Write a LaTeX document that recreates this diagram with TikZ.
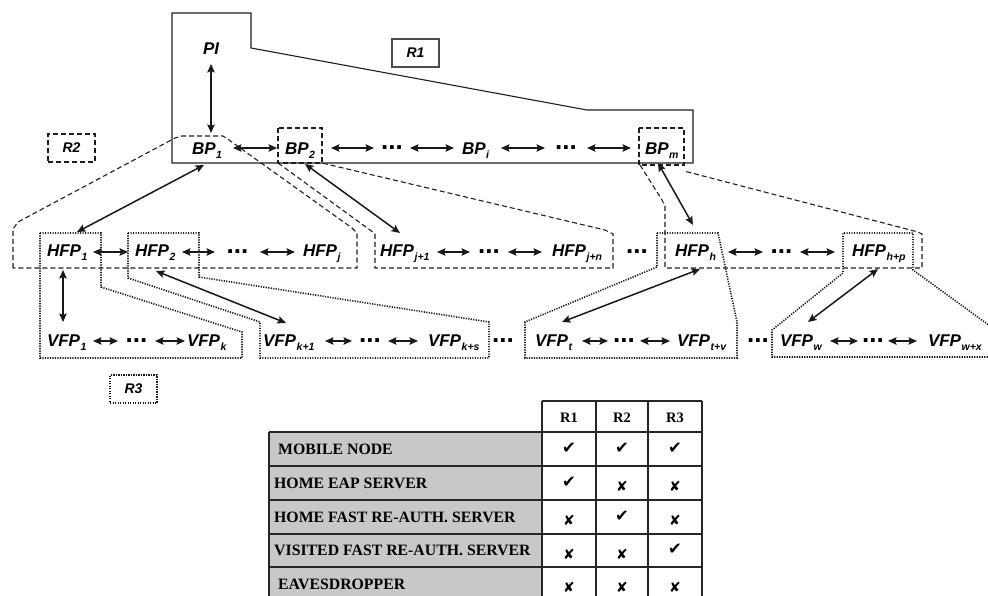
\documentclass[tikz,border=0pt]{standalone}
\usepackage{fontspec}
\setmainfont{Liberation Serif}
\newfontfamily\diagfont{Liberation Sans}
\newfontfamily\markfont{DejaVu Sans}
\usetikzlibrary{arrows.meta,calc}

% subscript used in the point labels
\newcommand\sbx[1]{\kern0.6pt\raisebox{-4pt}{\fontsize{10.5}{10.5}\selectfont #1}}

\definecolor{tabgray}{HTML}{C8C8C8}
\definecolor{inkline}{HTML}{1E1E1E}

\tikzset{
  lbl/.style={anchor=base west, inner sep=0pt, outer sep=0pt,
    text height=12pt, text depth=0pt,
    font=\diagfont\bfseries\itshape\fontsize{17}{17}\selectfont},
  dotsnode/.style={inner sep=0pt, outer sep=0pt, minimum width=#1,
    font=\diagfont\bfseries\fontsize{26}{26}\selectfont},
  dotsnode/.default=0pt,
  harr/.style={<->, >={Stealth[length=8.5pt,width=7.5pt,inset=1.5pt]},
    line width=1.5pt, draw=black!90},
  r1line/.style={draw=inkline, line width=1.1pt},
  r2line/.style={draw=inkline, line width=1.1pt, dash pattern=on 5pt off 3pt},
  r3line/.style={draw=black!90, line width=1.6pt, dash pattern=on 1.2pt off 1.3pt},
  rlabel/.style={minimum width=47pt, minimum height=28pt, inner sep=0pt,
    font=\diagfont\bfseries\itshape\fontsize{14}{14}\selectfont},
  tabline/.style={draw=black!85, line width=1.2pt},
  rowtxt/.style={anchor=west, inner sep=0pt,
    font=\bfseries\fontsize{15.8}{16}\selectfont},
  headtxt/.style={inner sep=0pt, font=\bfseries\fontsize{14.5}{15}\selectfont},
  yes/.style={inner sep=0pt, font=\markfont\fontsize{16.5}{16.5}\selectfont},
  no/.style={inner sep=0pt, font=\markfont\fontsize{14}{14}\selectfont},
}

\begin{document}
\begin{tikzpicture}[x=1pt, y=-1pt]
\useasboundingbox (0,0) rectangle (988,596);

% ---------- region outlines ----------
% R1 (solid)
\draw[r1line] (172,13) -- (251,13) -- (251,48) -- (587,110) -- (693,110)
  -- (693,163) -- (172,163) -- cycle;
% R2 (dashed)
\draw[r2line] (13,268) -- (13,229) -- (18,222) -- (175,138) -- (182,136)
  -- (223,136) -- (229,140) -- (352,228) -- (357,233) -- (357,268) -- cycle;
\draw[r2line] (278,128) rectangle (322,163);
\draw[r2line] (278,163) -- (370,230) -- (375,234) -- (375,268) -- (613,268)
  -- (613,234) -- (605,230) -- (322,163);
\draw[r2line] (639,128) rectangle (684,165);
\draw[r2line] (640,165) -- (662,200) -- (665,206) -- (665,268) -- (922,268)
  -- (922,234) -- (918,232) -- (684,171);
% R3 (dotted)
\draw[r3line] (40,233) -- (101,233) -- (101,287) -- (242,332) -- (242,358)
  -- (40,358) -- cycle;
\draw[r3line] (128,233) -- (199,233) -- (199,277) -- (489,322) -- (489,358)
  -- (260,358) -- (260,322) -- (128,278) -- cycle;
\draw[r3line] (657,233) -- (718,233) -- (737,322) -- (737,358) -- (525,358)
  -- (525,322) -- (657,267) -- cycle;
\draw[r3line] (990,326) -- (913,270) -- (913,233) -- (843,233) -- (843,273)
  -- (772,330) -- (772,357) -- (990,357);

% region tags
\node[rlabel, draw=black!70, line width=1.4pt] (tagr1) at (415.5,53) {R1};
\node[rlabel, r2line] (tagr2) at (71.5,148) {R2};
\node[rlabel, r3line] (tagr3) at (133.5,389) {R3};

% ---------- points ----------
\node[lbl] (pi) at (203,55) {PI};

\node[lbl] (bp1) at (192,155) {BP\sbx{1}};
\node[lbl] (bp2) at (285,155) {BP\sbx{2}};
\node[lbl] (bpi) at (462,155) {BP\sbx{i}};
\node[lbl] (bpm) at (645,155) {BP\sbx{m}};
\node[dotsnode=36pt] (bdots1) at (392,148) {...};
\node[dotsnode=42pt] (bdots2) at (566,148) {...};

\node[lbl] (hfp1)  at (47,257)  {HFP\sbx{1}};
\node[lbl] (hfp2)  at (135,257) {HFP\sbx{2}};
\node[lbl] (hfpj)  at (303,257) {HFP\sbx{j}};
\node[lbl] (hfpja) at (380,257) {HFP\sbx{j+1}};
\node[lbl] (hfpjn) at (552,257) {HFP\sbx{j+n}};
\node[lbl] (hfph)  at (675,257) {HFP\sbx{h}};
\node[lbl] (hfphp) at (852,257) {HFP\sbx{h+p}};
\node[dotsnode=45pt] (hdots1) at (237.5,252) {...};
\node[dotsnode=38pt] (hdots2) at (489,252) {...};
\node[dotsnode] (hdots3) at (637,252) {...};
\node[dotsnode=37pt] (hdots4) at (781.5,252) {...};

\node[lbl] (vfp1)  at (47,346)  {VFP\sbx{1}};
\node[lbl] (vfpk)  at (187,346) {VFP\sbx{k}};
\node[lbl] (vfpka) at (263,346) {VFP\sbx{k+1}};
\node[lbl] (vfpks) at (428,346) {VFP\sbx{k+s}};
\node[lbl] (vfpt)  at (535,346) {VFP\sbx{t}};
\node[lbl] (vfptv) at (677,346) {VFP\sbx{t+v}};
\node[lbl] (vfpw)  at (780,346) {VFP\sbx{w}};
\node[lbl] (vfpwx) at (928,346) {VFP\sbx{w+x}};
\node[dotsnode=37pt] (vdots1) at (136.5,341) {...};
\node[dotsnode=36pt] (vdots2) at (370,341) {...};
\node[dotsnode] (vdots3) at (503,341) {...};
\node[dotsnode=32pt] (vdots4) at (624,341) {...};
\node[dotsnode] (vdots5) at (758,341) {...};
\node[dotsnode=30pt] (vdots6) at (873,341) {...};

% ---------- links along the rows ----------
\draw[harr] ($(bp1.base west)+(41,-7)$) -- ($(bp2.base west)+(-8,-7)$);
\draw[harr] ($(bp2.base west)+(46,-7)$) -- (bdots1.west);
\draw[harr] (bdots1.east) -- ($(bpi.base west)+(-8,-7)$);
\draw[harr] ($(bpi.base west)+(39,-7)$) -- (bdots2.west);
\draw[harr] (bdots2.east) -- ($(bpm.base west)+(-14,-7)$);

\draw[harr] ($(hfp1.base west)+(46,-5)$) -- ($(hfp2.base west)+(-7,-5)$);
\draw[harr] ($(hfp2.base west)+(47,-5)$) -- (hdots1.west);
\draw[harr] (hdots1.east) -- ($(hfpj.base west)+(-8,-5)$);
\draw[harr] ($(hfpja.base west)+(57,-5)$) -- (hdots2.west);
\draw[harr] (hdots2.east) -- ($(hfpjn.base west)+(-10,-5)$);
\draw[harr] ($(hfph.base west)+(53,-5)$) -- (hdots4.west);
\draw[harr] (hdots4.east) -- ($(hfphp.base west)+(-17,-5)$);

\draw[harr] ($(vfp1.base west)+(46,-5)$) -- (vdots1.west);
\draw[harr] (vdots1.east) -- ($(vfpk.base west)+(-2,-5)$);
\draw[harr] ($(vfpka.base west)+(62,-5)$) -- (vdots2.west);
\draw[harr] (vdots2.east) -- ($(vfpks.base west)+(-10,-5)$);
\draw[harr] ($(vfpt.base west)+(47,-5)$) -- (vdots4.west);
\draw[harr] (vdots4.east) -- ($(vfptv.base west)+(-7,-5)$);
\draw[harr] ($(vfpw.base west)+(50,-5)$) -- (vdots6.west);
\draw[harr] (vdots6.east) -- ($(vfpwx.base west)+(-11,-5)$);

% ---------- links between levels ----------
\draw[harr] ($(pi.base west)+(8,9)$) -- ($(bp1.base west)+(19,-22)$);
\draw[harr] ($(bp1.base west)+(12,10)$) -- ($(hfp1.base west)+(30,-25)$);
\draw[harr] ($(bp2.base west)+(20,9)$) -- ($(hfpja.base west)+(20,-24)$);
\draw[harr] ($(bpm.base west)+(13,8)$) -- ($(hfph.base west)+(18,-32)$);
\draw[harr] ($(hfp1.base west)+(16,13)$) -- ($(vfp1.base west)+(16,-24)$);
\draw[harr] ($(hfp2.base west)+(21,14)$) -- ($(vfpka.base west)+(23,-23)$);
\draw[harr] ($(hfph.base west)+(25,12)$) -- ($(vfpt.base west)+(27,-24)$);
\draw[harr] ($(hfphp.base west)+(26,12)$) -- ($(vfpw.base west)+(28,-24)$);

% ---------- table ----------
\fill[tabgray] (269,432) rectangle (542,601);
\draw[tabline] (542,401) -- (702,401);
\foreach \xx in {542,596,648,702} \draw[tabline] (\xx,401) -- (\xx,601);
\draw[tabline] (269,432) -- (269,601);
\foreach \yy in {432,466,500,534,567,601} \draw[tabline] (269,\yy) -- (702,\yy);

\node[headtxt] (hr1) at (569,418) {R1};
\node[headtxt] (hr2) at (622,418) {R2};
\node[headtxt] (hr3) at (675,418) {R3};

\node[rowtxt] (row1) at (278,449)   {MOBILE NODE};
\node[rowtxt] (row2) at (274,483)   {HOME EAP SERVER};
\node[rowtxt] (row3) at (274,517)   {HOME FAST RE-AUTH. SERVER};
\node[rowtxt] (row4) at (274,550.5) {VISITED FAST RE-AUTH. SERVER};
\node[rowtxt] (row5) at (278,584)   {EAVESDROPPER};

\node[yes] at (569,448) {✔}; \node[yes] at (622,448) {✔}; \node[yes] at (675,448) {✔};
\node[yes] at (569,482) {✔}; \node[no]  at (622,486) {✘}; \node[no]  at (675,486) {✘};
\node[no]  at (569,520) {✘}; \node[yes] at (622,516) {✔}; \node[no]  at (675,520) {✘};
\node[no]  at (569,554) {✘}; \node[no]  at (622,554) {✘}; \node[yes] at (675,549) {✔};
\node[no]  at (569,587) {✘}; \node[no]  at (622,587) {✘}; \node[no]  at (675,587) {✘};
\end{tikzpicture}
\end{document}
